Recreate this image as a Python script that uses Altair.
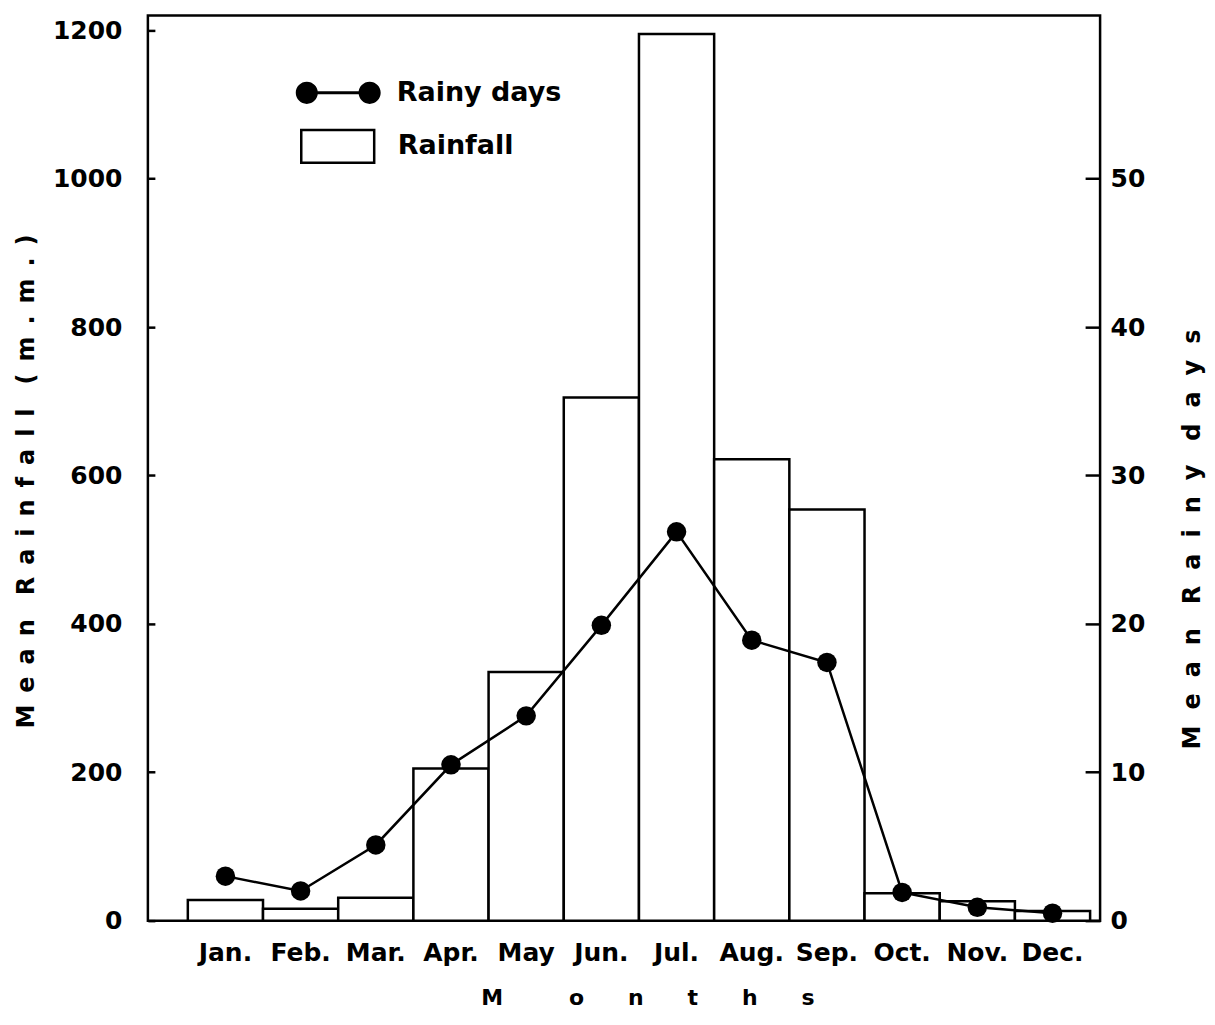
import altair as alt
import pandas as pd

months = ["Jan.", "Feb.", "Mar.", "Apr.", "May", "Jun.", "Jul.", "Aug.", "Sep.", "Oct.", "Nov.", "Dec."]
rainfall_mm = [28, 16, 31, 205, 335, 705, 1195, 622, 554, 37, 26, 13]
rainy_days = [3.0, 2.0, 5.1, 10.5, 13.8, 19.9, 26.2, 18.9, 17.4, 1.9, 0.9, 0.5]
left_ticks = [0, 200, 400, 600, 800, 1000, 1200]
right_ticks = [0, 10, 20, 30, 40, 50]

df = pd.DataFrame({"month": months, "rainfall": rainfall_mm, "rainy": rainy_days})

FONT = "DejaVu Sans"
W, H = 953, 906

sp = "\u2002"
sp2 = "\u2002\u2006"
left_title = (sp.join("Mean") + "\u2003" + sp.join("Rainfall") + "\u2003" + sp.join("(m.m.)"))
right_title = (sp2.join("Mean") + "\u2003" + sp2.join("Rainy") + "\u2003" + sp2.join("days"))
x_title = "M\u2003\u2003\u2003o\u2003\u2003n\u2003\u2003t\u2003\u2003h\u2003\u2003s"

line_sym = ("M -1,0 A 0.26,0.26 0 1,1 -0.48,0 A 0.26,0.26 0 1,1 -1,0 Z "
            "M 0.48,0 A 0.26,0.26 0 1,1 1,0 A 0.26,0.26 0 1,1 0.48,0 Z "
            "M -0.74,-0.035 L 0.74,-0.035 L 0.74,0.035 L -0.74,0.035 Z")
rect_sym = "M -1,-0.45 L 1,-0.45 L 1,0.45 L -1,0.45 Z"

xenc = alt.X("month:N", sort=months,
             scale=alt.Scale(type="band", paddingInner=0, paddingOuter=0.332, align=0.8),
             axis=alt.Axis(title=x_title, labelFontSize=25, labelFont=FONT, labelFontWeight="bold",
                           labelColor="black", ticks=False, domain=False, labelPadding=20,
                           labelAngle=0, titleFont=FONT, titleFontSize=22, titleFontWeight="bold",
                           titleColor="black", titlePadding=22, titleX=500))

base = alt.Chart(df)

bars = base.mark_bar(stroke="black", strokeWidth=2.5).encode(
    x=xenc,
    y=alt.Y("rainfall:Q", scale=alt.Scale(domain=[0, 1220], nice=False),
            axis=alt.Axis(orient="left", values=left_ticks, format="d", offset=-7, tickSize=7,
                          tickWidth=2.5, tickColor="black", labelPadding=26, domain=False, grid=False,
                          labelFont=FONT, labelFontSize=25, labelFontWeight="bold", labelColor="black",
                          title=left_title, titleFont=FONT, titleFontSize=24, titleFontWeight="bold",
                          titleColor="black", titlePadding=14, titleY=466)),
    fill=alt.Fill("s:N", scale=alt.Scale(range=["white"]),
                  legend=alt.Legend(title=None, orient="none", legendX=152, legendY=93,
                                    symbolType=rect_sym, symbolSize=5329, symbolStrokeColor="black",
                                    symbolStrokeWidth=2.5, symbolFillColor="white",
                                    labelFont=FONT, labelFontSize=27, labelFontWeight="bold",
                                    labelColor="black", labelOffset=22, labelLimit=400)),
).transform_calculate(s="'Rainfall'")

yright = alt.Y("rainy:Q", scale=alt.Scale(domain=[0, 61], nice=False),
               axis=alt.Axis(orient="right", values=right_ticks, format="d", offset=-15, tickSize=15,
                             tickWidth=2.5, tickColor="black", labelPadding=10, domain=False, grid=False,
                             labelFont=FONT, labelFontSize=25, labelFontWeight="bold", labelColor="black",
                             title=right_title, titleFont=FONT, titleFontSize=24, titleFontWeight="bold",
                             titleColor="black", titleAngle=270, titleBaseline="top", titlePadding=36,
                             titleY=524))

line = base.mark_line(color="black", strokeWidth=2.5).encode(x=xenc, y=yright)

pts = base.mark_circle(size=380, opacity=1, color="black").encode(
    x=xenc,
    y=yright,
    color=alt.Color("s:N", scale=alt.Scale(range=["black"]),
                    legend=alt.Legend(title=None, orient="none", legendX=147, legendY=34,
                                      symbolType=line_sym, symbolSize=7225, symbolFillColor="black",
                                      symbolOpacity=1,
                                      labelFont=FONT, labelFontSize=27, labelFontWeight="bold",
                                      labelColor="black", labelOffset=15, labelLimit=400)),
).transform_calculate(s="'Rainy days'")

right_layer = alt.layer(line, pts)

chart = alt.layer(bars, right_layer).resolve_scale(y="independent").properties(
    width=W, height=H,
    background="white",
    autosize=alt.AutoSizeParams(type="none"),
    padding={"left": 140, "top": 7, "right": 107, "bottom": 95},
).configure_view(stroke="black", strokeWidth=2.5)

chart.save("out.html", embed_options={"renderer": "svg", "actions": False})
